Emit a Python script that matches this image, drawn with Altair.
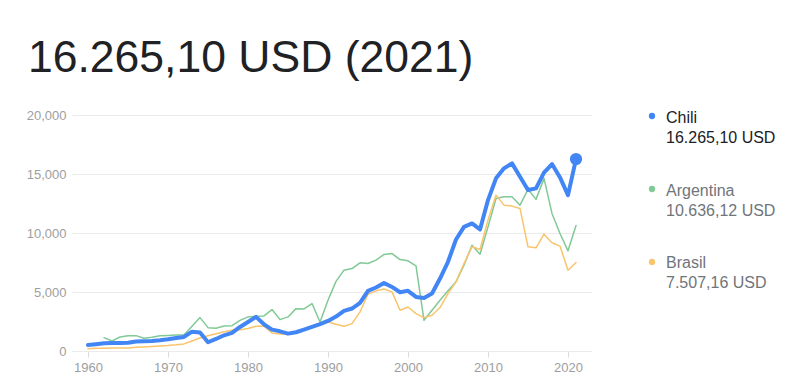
import altair as alt
import pandas as pd

years = list(range(1960, 2022))

chile = [500, 570, 650, 680, 680, 700, 800, 820, 850, 910,
         990, 1100, 1190, 1640, 1560, 740, 1020, 1330, 1530, 2040,
         2460, 2890, 2260, 1810, 1670, 1470, 1590, 1810, 2040, 2270,
         2550, 2920, 3400, 3600, 4070, 5100, 5380, 5770, 5430, 4980,
         5100, 4580, 4500, 4870, 6140, 7560, 9450, 10520, 10810, 10300,
         12790, 14630, 15480, 15900, 14770, 13640, 13780, 15110, 15840, 14710,
         13210, 16265.10]

argentina = [None, None, 1130, 850, 1190, 1300, 1300, 1080, 1160, 1300,
             1320, 1350, 1350, 2100, 2830, 1980, 1930, 2120, 2150, 2600,
             2890, 2940, 2970, 3510, 2660, 2890, 3590, 3560, 4020, 2460,
             4300, 5900, 6850, 6990, 7470, 7410, 7700, 8180, 8260, 7750,
             7640, 7210, 2600, 3450, 4300, 5100, 5860, 7270, 8970, 8200,
             10520, 12930, 13070, 13070, 12360, 13700, 12850, 14630, 11660, 9960,
             8490, 10636.12]

brasil = [200, 230, 230, 250, 250, 260, 310, 340, 380, 420,
          460, 520, 600, 850, 1100, 1300, 1470, 1640, 1750, 1800,
          1900, 2100, 2100, 1530, 1450, 1450, 1620, 1810, 1980, 2270,
          2450, 2270, 2100, 2320, 3310, 4810, 5100, 5260, 5010, 3450,
          3730, 3170, 2830, 3030, 3680, 4870, 5860, 7410, 8830, 8600,
          11090, 13210, 12360, 12280, 12080, 8830, 8740, 9900, 9170, 8890,
          6850, 7507.16]

countries = ["Chili", "Argentina", "Brasil"]
value_labels = ["16.265,10 USD", "10.636,12 USD", "7.507,16 USD"]
colors = ["#4285F4", "#81C995", "#F9C46B"]
widths = [4, 1.5, 1.5]
text_colors = ["#202124", "#70757a", "#70757a"]
title_text = "16.265,10 USD (2021)"

x_ticks = [1960, 1970, 1980, 1990, 2000, 2010, 2020]
y_ticks = [0, 5000, 10000, 15000, 20000]

series = {"Chili": chile, "Argentina": argentina, "Brasil": brasil}
rows = []
for name, vals in series.items():
    for yr, v in zip(years, vals):
        if v is not None:
            rows.append({"year": yr, "value": v, "country": name})
df = pd.DataFrame(rows)

FONT = "Liberation Sans, Arial, sans-serif"

x_enc = alt.X("year:Q", scale=alt.Scale(domain=[1958, 2023], nice=False, zero=False),
              axis=alt.Axis(values=x_ticks, format="d", title=None, grid=False,
                            domain=False, ticks=True, tickSize=6, tickColor="#dadce0",
                            labelColor="#9e9e9e", labelFontSize=13, labelFont=FONT,
                            labelPadding=4))
y_enc = alt.Y("value:Q", scale=alt.Scale(domain=[0, 20000], nice=False),
              axis=alt.Axis(values=y_ticks, format=",.0f", title=None, grid=True,
                            gridColor="#ebebeb", domain=False, ticks=False,
                            labelColor="#9e9e9e", labelFontSize=13, labelFont=FONT,
                            labelPadding=6))

layers = []
draw_order = ["Argentina", "Brasil", "Chili"]
for name in draw_order:
    i = countries.index(name)
    layers.append(
        alt.Chart(df[df["country"] == name]).mark_line(
            color=colors[i], strokeWidth=widths[i], strokeJoin="round", strokeCap="round"
        ).encode(x=x_enc, y=y_enc)
    )

last = df[(df["country"] == "Chili") & (df["year"] == years[-1])]
layers.append(
    alt.Chart(last).mark_circle(color=colors[0], opacity=1, size=150).encode(x=x_enc, y=y_enc)
)

# legend
for i, name in enumerate(countries):
    d = pd.DataFrame({"name": [name], "label": [value_labels[i]]})
    base_y = i * 72.5
    layers.append(alt.Chart(d).mark_circle(color=colors[i], opacity=1, size=40).encode(
        x=alt.value(580), y=alt.value(1 + i * 73)))
    layers.append(alt.Chart(d).mark_text(align="left", baseline="alphabetic", fontSize=16,
                                         font=FONT, color=text_colors[i]).encode(
        x=alt.value(594), y=alt.value(8.3 + base_y), text="name:N"))
    layers.append(alt.Chart(d).mark_text(align="left", baseline="alphabetic", fontSize=16,
                                         font=FONT, color=text_colors[i]).encode(
        x=alt.value(594), y=alt.value(28.3 + base_y), text="label:N"))

tdf = pd.DataFrame({"t": [title_text]})
layers.append(alt.Chart(tdf).mark_text(align="left", baseline="alphabetic", fontSize=44.5,
                                       font=FONT, color="#202124").encode(
    x=alt.value(-44), y=alt.value(-43.3), text="t:N"))

chart = alt.layer(*layers).properties(
    width=520, height=236,
    padding={"left": 64, "top": 107, "right": 198, "bottom": 25},
    autosize=alt.AutoSizeParams(type="none"),
).configure_view(stroke=None)

chart.save("out.html", embed_options={"renderer": "svg", "actions": False})
